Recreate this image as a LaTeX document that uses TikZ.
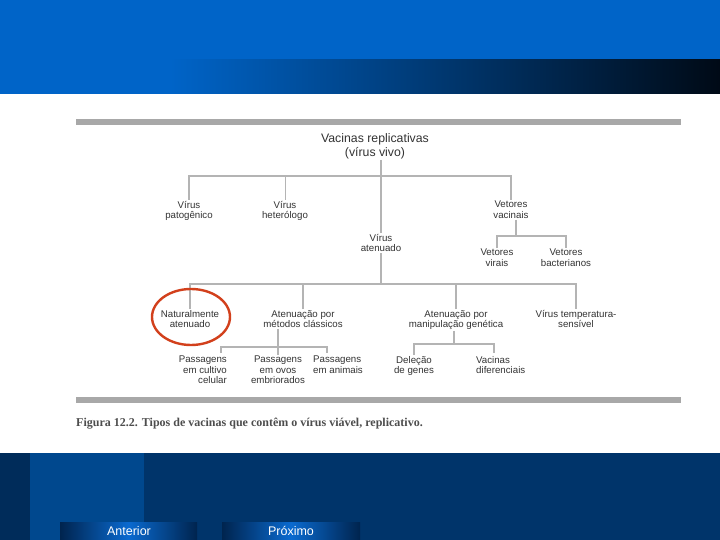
\documentclass[tikz,border=0pt]{standalone}
\usepackage{fontspec}
\setmainfont{Liberation Sans}
\newfontfamily\capfont{Liberation Serif}
\definecolor{topblue}{HTML}{0064C8}
\definecolor{gradmid}{HTML}{003B78}
\definecolor{graddark}{HTML}{000A16}
\definecolor{navy}{HTML}{00346A}
\definecolor{leftstrip}{HTML}{002C5A}
\definecolor{sqblue}{HTML}{00488E}
\definecolor{btndark}{HTML}{00244E}
\definecolor{btnblue}{HTML}{0A6AD0}
\definecolor{bargray}{HTML}{A8A8A8}
\definecolor{linegray}{HTML}{B4B4B4}
\definecolor{txt}{HTML}{333333}
\definecolor{captxt}{HTML}{4D4D4D}
\definecolor{ringred}{HTML}{D2401C}
\begin{document}
\begin{tikzpicture}[x=1pt,y=-1pt,
  ln/.style={draw=linegray,line width=2.2pt},
  lnthin/.style={draw=linegray,line width=0.9pt},
  lbl/.style={font=\fontsize{9.7}{10.5}\selectfont,text=txt,align=center,inner sep=1pt,anchor=north},
  rootlbl/.style={font=\fontsize{12.3}{14}\selectfont,text=txt,align=center,inner sep=1pt},
  btn/.style={left color=btndark,right color=btndark,middle color=btnblue},
  btntxt/.style={font=\fontsize{12.5}{14}\selectfont,text=white,inner sep=0pt}
]
\useasboundingbox (0,0) rectangle (720,540);
% header
\fill[topblue] (0,0) rectangle (720,60);
\fill[topblue] (0,60) rectangle (170,94);
\shade[left color=topblue,middle color=gradmid,right color=graddark] (170,60) rectangle (720,94);
% white page
\fill[white] (0,94) rectangle (720,453);
% footer
\fill[navy] (0,453) rectangle (720,540);
\fill[leftstrip] (0,453) rectangle (30,540);
\fill[sqblue] (30,453) rectangle (144,540);
\shade[btn] (60,522) rectangle (197,540);
\shade[btn] (222,522) rectangle (360,540);
\node[btntxt] (prev) at (129,531) {Anterior};
\node[btntxt] (next) at (291,531) {Próximo};
% gray rules
\fill[bargray] (76,119) rectangle (681,125);
\fill[bargray] (76,397) rectangle (681,403);
% caption
\node[anchor=west,inner sep=0pt,font=\capfont\bfseries\fontsize{12}{14}\selectfont,text=captxt] (cap) at (76,424)
  {Figura 12.2. Tipos de vacinas que contêm o vírus viável, replicativo.};
% tree nodes
\node[rootlbl] (root) at (375,146) {Vacinas replicativas\\(vírus vivo)};
\coordinate (b1) at (381,176);
\node[lbl] (pat) at (189,200) {Vírus\\patogênico};
\node[lbl] (het) at (285,200) {Vírus\\heterólogo};
\node[lbl] (vet) at (511,200) {Vetores\\vacinais};
\node[lbl] (att) at (381,233) {Vírus\\atenuado};
\coordinate (b2) at (516,236);
\node[lbl] (vir) at (497,248) {Vetores\\virais};
\node[lbl] (bac) at (566,248) {Vetores\\bacterianos};
\coordinate (b3) at (381,284);
\node[lbl] (nat) at (190,309) {Naturalmente\\atenuado};
\node[lbl] (met) at (303,309) {Atenuação por\\métodos clássicos};
\node[lbl] (gen) at (456,309) {Atenuação por\\manipulação genética};
\node[lbl] (tmp) at (576,309) {Vírus temperatura-\\sensível};
\coordinate (b4) at (278,347);
\coordinate (pcT) at (221,353);
\coordinate (paT) at (327,353);
\node[lbl,anchor=north east,align=right] (pc) at (228,355) {Passagens\\em cultivo\\celular};
\node[lbl] (po) at (278,355) {Passagens\\em ovos\\embriorados};
\node[lbl,anchor=north west,align=left] (pa) at (312,355) {Passagens\\em animais};
\coordinate (b5) at (454,344);
\coordinate (difT) at (494,353);
\node[lbl] (del) at (414,355) {Deleção\\de genes};
\node[lbl,anchor=north west,align=left] (dif) at (475,355) {Vacinas\\diferenciais};
% connectors
\draw[ln] (root.south -| b1) -- (att.north);
\draw[ln] (pat.north) |- (b1) -| (vet.north);
\draw[lnthin] (het.north) -- (het.north |- b1);
\draw[ln] (vet.south -| b2) -- (b2);
\draw[ln] (vir.north) |- (b2) -| (bac.north);
\draw[ln] (att.south) -- (b3);
\draw[ln] (nat.north) |- (b3) -| (tmp.north);
\draw[ln] (met.north) -- (met.north |- b3);
\draw[ln] (gen.north) -- (gen.north |- b3);
\draw[ln] (met.south -| b4) -- (po.north);
\draw[ln] (pcT) |- (b4) -| (paT);
\draw[ln] (gen.south -| b5) -- (b5);
\draw[ln] (del.north) |- (b5) -| (difT);
% highlight ring
\draw[ringred,line width=2.4pt] (191,317) ellipse [x radius=39pt,y radius=28pt];
\end{tikzpicture}
\end{document}
